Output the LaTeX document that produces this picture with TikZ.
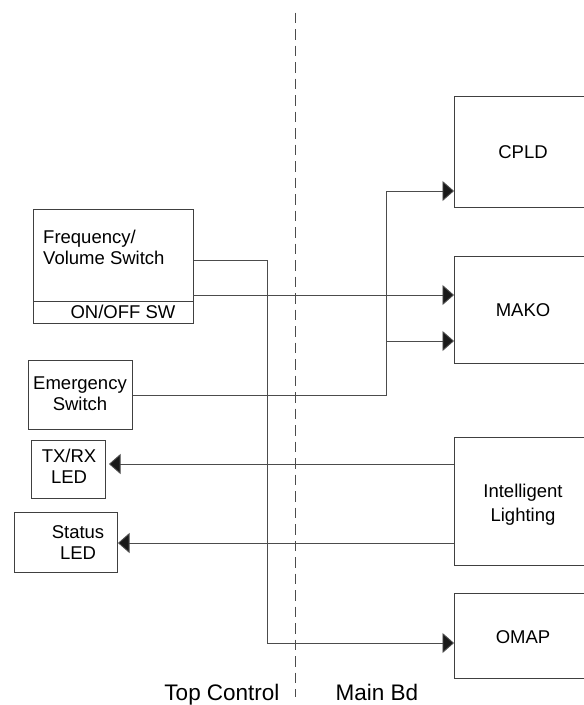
\documentclass[tikz,border=0pt]{standalone}
\usepackage{fontspec}
\setmainfont{Liberation Sans}
\usetikzlibrary{arrows.meta}
\tikzset{
  blk/.style={draw=black!75,line width=.9pt,inner sep=0pt,anchor=north west},
  sig/.style={draw=black!70,line width=.9pt},
  tip/.style={-{Triangle[length=11.5pt,width=20pt,fill=black!90]}},
  lbl/.style={font=\fontsize{18.5}{21}\selectfont,inner sep=0pt,align=center},
}
\begin{document}
\begin{tikzpicture}[x=1pt,y=-1pt]
\clip (0,0) rectangle (584,705);
% divider between the two boards
\coordinate (divTop) at (295,12.5);
\coordinate (divBot) at (295,697);
\draw[black!70,line width=.9pt,dash pattern=on 10.5pt off 6pt] (divTop) -- (divBot);
\node[lbl,font=\fontsize{22.5}{24}\selectfont,anchor=base] (topctl) at (222,700) {Top Control};
\node[lbl,font=\fontsize{22.5}{24}\selectfont,anchor=base] (mainbd) at (377,700) {Main Bd};
% main board
\node[blk,minimum width=138pt,minimum height=111pt] (cpld) at (454,96) {};
\node[lbl] (cpldtxt) at (523,152) {CPLD};
\node[blk,minimum width=138pt,minimum height=107pt] (mako) at (454,256) {};
\node[lbl] (makotxt) at (523,310) {MAKO};
\node[blk,minimum width=138pt,minimum height=128pt] (light) at (454,437) {};
\node[lbl] (lighttxt) at (523,505) {Intelligent\\[3pt]Lighting};
\node[blk,minimum width=138pt,minimum height=85pt] (omap) at (454,593) {};
\node[lbl] (omaptxt) at (523,637) {OMAP};
% top control
\node[blk,minimum width=160pt,minimum height=92pt] (freq) at (33,209) {};
\node[lbl,align=left,anchor=west] (freqtxt) at (43,247) {Frequency/\\Volume Switch};
\node[blk,minimum width=160pt,minimum height=22pt] (onoff) at (33,301) {};
\node[lbl] (onofftxt) at (123,312) {ON/OFF SW};
\node[blk,minimum width=104pt,minimum height=69pt] (emerg) at (28,360) {};
\node[lbl] (emergtxt) at (80,394) {Emergency\\Switch};
\node[blk,minimum width=74pt,minimum height=58pt] (txrx) at (31,440) {};
\node[lbl] (txrxtxt) at (69,466) {TX/RX\\LED};
\node[blk,minimum width=103pt,minimum height=60pt] (status) at (14,512) {};
\node[lbl] (statustxt) at (78,543) {Status\\LED};
% signals
\coordinate (fBend) at (267,260);
\coordinate (fLow) at (267,643);
\draw[sig,tip] (freq.east |- fBend) -- (fBend) -- (fLow) -- (omap.west |- fLow);
\coordinate (swOut) at (193,295);
\draw[sig,tip] (swOut) -- (mako.west |- swOut);
\coordinate (eTop) at (386,191);
\coordinate (eMid) at (386,341);
\draw[sig,tip] (emerg.east) -| (eTop) -- (cpld.west |- eTop);
\draw[sig,tip] (eMid) -- (mako.west |- eMid);
\coordinate (ledA) at (109,464);
\coordinate (ledB) at (118,543);
\draw[sig,tip] (light.west |- ledA) -- (ledA);
\draw[sig,tip] (light.west |- ledB) -- (ledB);
\end{tikzpicture}
\end{document}
